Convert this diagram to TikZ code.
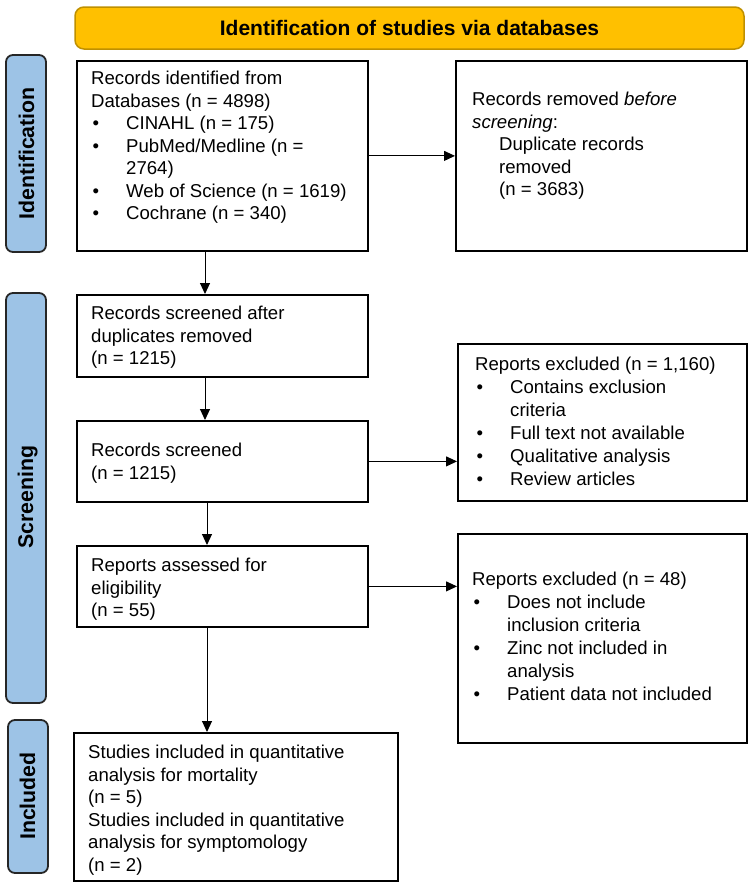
\documentclass[tikz,border=0pt]{standalone}
\usepackage{fontspec}
\setmainfont{Liberation Sans}
\usetikzlibrary{arrows.meta}
\definecolor{sideblue}{HTML}{9DC3E6}
\definecolor{bannergold}{HTML}{FFC000}
\definecolor{bannerline}{HTML}{BF9000}
\newcommand\bul{\makebox[35pt][l]{\hspace{1.5pt}\textbullet}}
\begin{document}
\begin{tikzpicture}[x=1pt,y=-1pt,
  box/.style={draw=black, line width=1.8pt, fill=white, inner sep=0pt, anchor=north west},
  txt/.style={anchor=north west, inner sep=0pt, align=left, font=\fontsize{18.6}{22.5}\selectfont},
  txtw/.style={txt, font=\fontsize{18.6}{23}\selectfont},
  arr/.style={line width=1pt, -{Triangle[length=11pt,width=10pt]}},
  side/.style={draw=black!85, line width=1.8pt, fill=sideblue, rounded corners=7pt},
  sidetxt/.style={rotate=90, anchor=mid, inner sep=0pt, font=\bfseries\fontsize{21.3}{24}\selectfont}]
\useasboundingbox (0,0) rectangle (750,886);

% banner
\draw[fill=bannergold, draw=bannerline, line width=1.5pt, rounded corners=9pt] (75,7) rectangle (744,49);
\node[font=\bfseries\fontsize{21}{24}\selectfont, inner sep=0pt] (banner) at (409.5,28) {Identification of studies via databases};

% side labels
\draw[side] (6,55) rectangle (46,252);
\node[sidetxt] (lid) at (31.5,153.5) {Identification};
\draw[side] (6,293) rectangle (46,703);
\begin{scope}
  \clip (0,290) rectangle (37.5,710);
  \node[sidetxt] (lsc) at (30.5,497) {Screening};
\end{scope}
\draw[side] (8,720) rectangle (48,873);
\node[sidetxt] (lin) at (32.5,796) {Included};

% boxes
\node[box, minimum width=291pt, minimum height=190pt] (b1) at (76,60) {};
\node[box, minimum width=291pt, minimum height=190pt] (b2) at (455,60) {};
\node[box, minimum width=291pt, minimum height=82pt] (b3) at (76,294) {};
\node[box, minimum width=291pt, minimum height=81pt] (b4) at (76,420) {};
\node[box, minimum width=289pt, minimum height=157pt] (b5) at (457,343) {};
\node[box, minimum width=291pt, minimum height=81pt] (b6) at (76,545) {};
\node[box, minimum width=289pt, minimum height=209pt] (b7) at (457,533) {};
\node[box, minimum width=324pt, minimum height=148pt] (b8) at (73,732) {};

% texts
\node[txt] (t1) at (91,71) {Records identified from\\
Databases (n = 4898)\\
\bul CINAHL (n = 175)\\
\bul PubMed/Medline (n =\\
\hspace*{35pt}2764)\\
\bul Web of Science (n = 1619)\\
\bul Cochrane (n = 340)};

\node[txt] (t2) at (472,92) {Records removed \textit{before}\\
\textit{screening}:\\
\hspace*{27pt}Duplicate records\\
\hspace*{27pt}removed\\
\hspace*{27pt}(n = 3683)};

\node[txt] (t3) at (91,306) {Records screened after\\duplicates removed\\(n = 1215)};
\node[txt] (t4) at (91,443) {Records screened\\(n = 1215)};

\node[txtw] (t5) at (475,357) {Reports excluded (n = 1,160)\\
\bul Contains exclusion\\
\hspace*{35pt}criteria\\
\bul Full text not available\\
\bul Qualitative analysis\\
\bul Review articles};

\node[txt] (t6) at (91,558) {Reports assessed for\\eligibility\\(n = 55)};

\node[txtw] (t7) at (472,572) {Reports excluded (n = 48)\\
\bul Does not include\\
\hspace*{35pt}inclusion criteria\\
\bul Zinc not included in\\
\hspace*{35pt}analysis\\
\bul Patient data not included};

\node[txt] (t8) at (88,745) {Studies included in quantitative\\
analysis for mortality\\
(n = 5)\\
Studies included in quantitative\\
analysis for symptomology\\
(n = 2)};

% connectors
\coordinate (v1) at (205,0);
\coordinate (v2) at (207,0);
\draw[arr] (b1.east) -- (b1.east -| b2.west);
\draw[arr] (b4.east) -- (b4.east -| b5.west);
\draw[arr] (b6.east) -- (b6.east -| b7.west);
\draw[arr] (b1.south -| v1) -- (b3.north -| v1);
\draw[arr] (b3.south -| v1) -- (b4.north -| v1);
\draw[arr] (b4.south -| v2) -- (b6.north -| v2);
\draw[arr] (b6.south -| v2) -- (b8.north -| v2);
\end{tikzpicture}
\end{document}
